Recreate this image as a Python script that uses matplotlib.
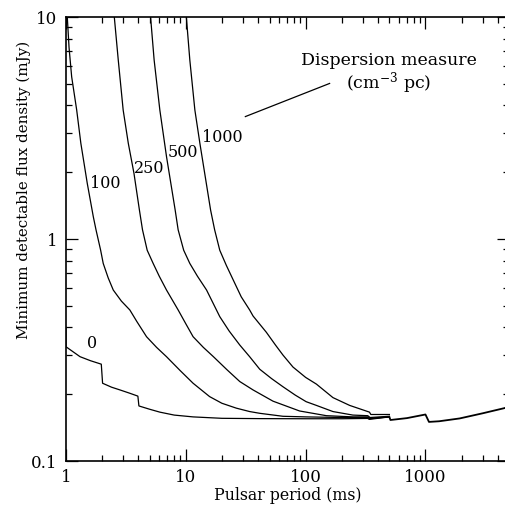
import matplotlib
matplotlib.use("Agg")
import matplotlib.pyplot as plt
from matplotlib.ticker import LogLocator, FixedLocator, NullFormatter, FixedFormatter

plt.rcParams['font.family'] = ['DejaVu Serif']
plt.rcParams['mathtext.fontset'] = 'dejavuserif'

# ---- data ----
dm0_P = [1.0, 1.0, 1.15, 1.31, 1.6, 1.97, 2.02, 2.4, 2.82, 3.4, 3.98, 4.06, 5.0, 6.07, 8.0, 11.5, 20, 41.4, 100, 200, 330, 340, 500]
dm0_S = [0.40, 0.327, 0.31, 0.295, 0.283, 0.273, 0.224, 0.215, 0.209, 0.202, 0.196, 0.177, 0.171, 0.166, 0.161, 0.158, 0.1557, 0.1552, 0.155, 0.155, 0.1555, 0.154, 0.158]

dm100_P = [1.025, 1.06, 1.115, 1.228, 1.33, 1.505, 1.69, 1.78, 1.946, 2.045, 2.25, 2.48, 2.9, 3.41, 3.9, 4.70, 5.7, 6.9, 9.0, 11.5, 15.8, 20, 26.4, 34.1, 41.4, 64.7, 101, 200, 330, 340, 500]
dm100_S = [10, 7.3, 5.38, 3.81, 2.70, 1.78, 1.26, 1.10, 0.89, 0.776, 0.668, 0.589, 0.525, 0.479, 0.425, 0.363, 0.325, 0.295, 0.255, 0.224, 0.195, 0.182, 0.173, 0.167, 0.164, 0.159, 0.158, 0.157, 0.157, 0.155, 0.158]

dm250_P = [2.53, 2.73, 3.0, 3.31, 3.69, 4.1, 4.35, 4.76, 5.34, 6.0, 6.9, 8.63, 10.0, 11.5, 14.0, 17.0, 22, 28.2, 36.4, 53.4, 89, 149, 250, 330, 345, 500]
dm250_S = [10, 6.40, 3.81, 2.70, 1.98, 1.35, 1.10, 0.89, 0.776, 0.68, 0.589, 0.479, 0.415, 0.363, 0.325, 0.295, 0.258, 0.228, 0.209, 0.186, 0.168, 0.160, 0.158, 0.158, 0.156, 0.158]

dm500_P = [5.08, 5.44, 6.07, 6.9, 8.15, 8.63, 9.6, 10.8, 12.5, 14.9, 19.2, 23, 28.2, 34.1, 41.4, 52, 64.7, 82, 101, 123, 169, 248, 330, 345, 500]
dm500_S = [10, 6.40, 3.81, 2.35, 1.35, 1.10, 0.89, 0.776, 0.68, 0.589, 0.447, 0.385, 0.333, 0.295, 0.259, 0.235, 0.216, 0.198, 0.185, 0.178, 0.167, 0.161, 0.160, 0.157, 0.159]

dm1000_P = [10.1, 10.8, 11.9, 13.1, 16.1, 17.4, 19.2, 21.8, 25, 29, 34.1, 36.4, 47, 56, 64.7, 78.4, 100, 123, 169, 233, 341, 350, 500]
dm1000_S = [10, 6.40, 3.81, 2.70, 1.35, 1.10, 0.89, 0.76, 0.65, 0.549, 0.479, 0.450, 0.38, 0.333, 0.300, 0.265, 0.238, 0.222, 0.193, 0.178, 0.166, 0.162, 0.162]

tail_P = [500, 510, 700, 1000, 1070, 1300, 1930, 3000, 4550, 5000]
tail_S = [0.158, 0.153, 0.156, 0.162, 0.150, 0.151, 0.1555, 0.164, 0.173, 0.176]

curve_labels = ['0', '100', '250', '500', '1000']
label_P = [1.64, 2.14, 4.92, 9.38, 20.1]
label_S = [0.339, 1.78, 2.08, 2.45, 2.87]

x_ticks = [1, 10, 100, 1000]
x_ticklabels = ['1', '10', '100', '1000']
y_ticks = [0.1, 1, 10]
y_ticklabels = ['0.1', '1', '10']

# ---- figure ----
fig = plt.figure(figsize=(5.06, 5.09), dpi=100)
ax = fig.add_axes([66/506, 48/509, 443.2/506, 444/509])

for P, S in [(dm0_P, dm0_S), (dm100_P, dm100_S), (dm250_P, dm250_S),
             (dm500_P, dm500_S), (dm1000_P, dm1000_S)]:
    ax.plot(P, S, color='black', lw=0.9)
ax.plot(tail_P, tail_S, color='black', lw=1.3)

ax.set_xscale('log')
ax.set_yscale('log')
ax.set_xlim(1, 5000)
ax.set_ylim(0.1, 10)

for t, p, s in zip(curve_labels, label_P, label_S):
    ax.text(p, s, t, fontsize=11.5, ha='center', va='center')

ax.text(494, 6.35, 'Dispersion measure', fontsize=12.5, ha='center', va='center')
ax.text(494, 5.02, r'(cm$^{-3}$ pc)', fontsize=12.5, ha='center', va='center')
ax.plot([31.4, 158.5], [3.56, 5.02], color='black', lw=0.9)

ax.xaxis.set_major_locator(FixedLocator(x_ticks))
ax.xaxis.set_major_formatter(FixedFormatter(x_ticklabels))
ax.yaxis.set_major_locator(FixedLocator(y_ticks))
ax.yaxis.set_major_formatter(FixedFormatter(y_ticklabels))
ax.xaxis.set_minor_locator(LogLocator(base=10, subs=range(2, 10), numticks=20))
ax.yaxis.set_minor_locator(LogLocator(base=10, subs=range(2, 10), numticks=20))
ax.xaxis.set_minor_formatter(NullFormatter())
ax.yaxis.set_minor_formatter(NullFormatter())

ax.tick_params(which='both', direction='in', top=True, right=True, width=0.9)
ax.tick_params(which='major', length=8.5, labelsize=12, pad=6)
ax.tick_params(which='minor', length=4)
for sp in ax.spines.values():
    sp.set_linewidth(1.2)

ax.set_xlabel('Pulsar period (ms)', fontsize=11.3)
ax.xaxis.set_label_coords(0.5, -0.0586)
ax.set_ylabel('Minimum detectable flux density (mJy)', fontsize=10.9)
ax.yaxis.set_label_coords(-0.079, 0.61)

fig.savefig('out.png', dpi=100, facecolor='white')
